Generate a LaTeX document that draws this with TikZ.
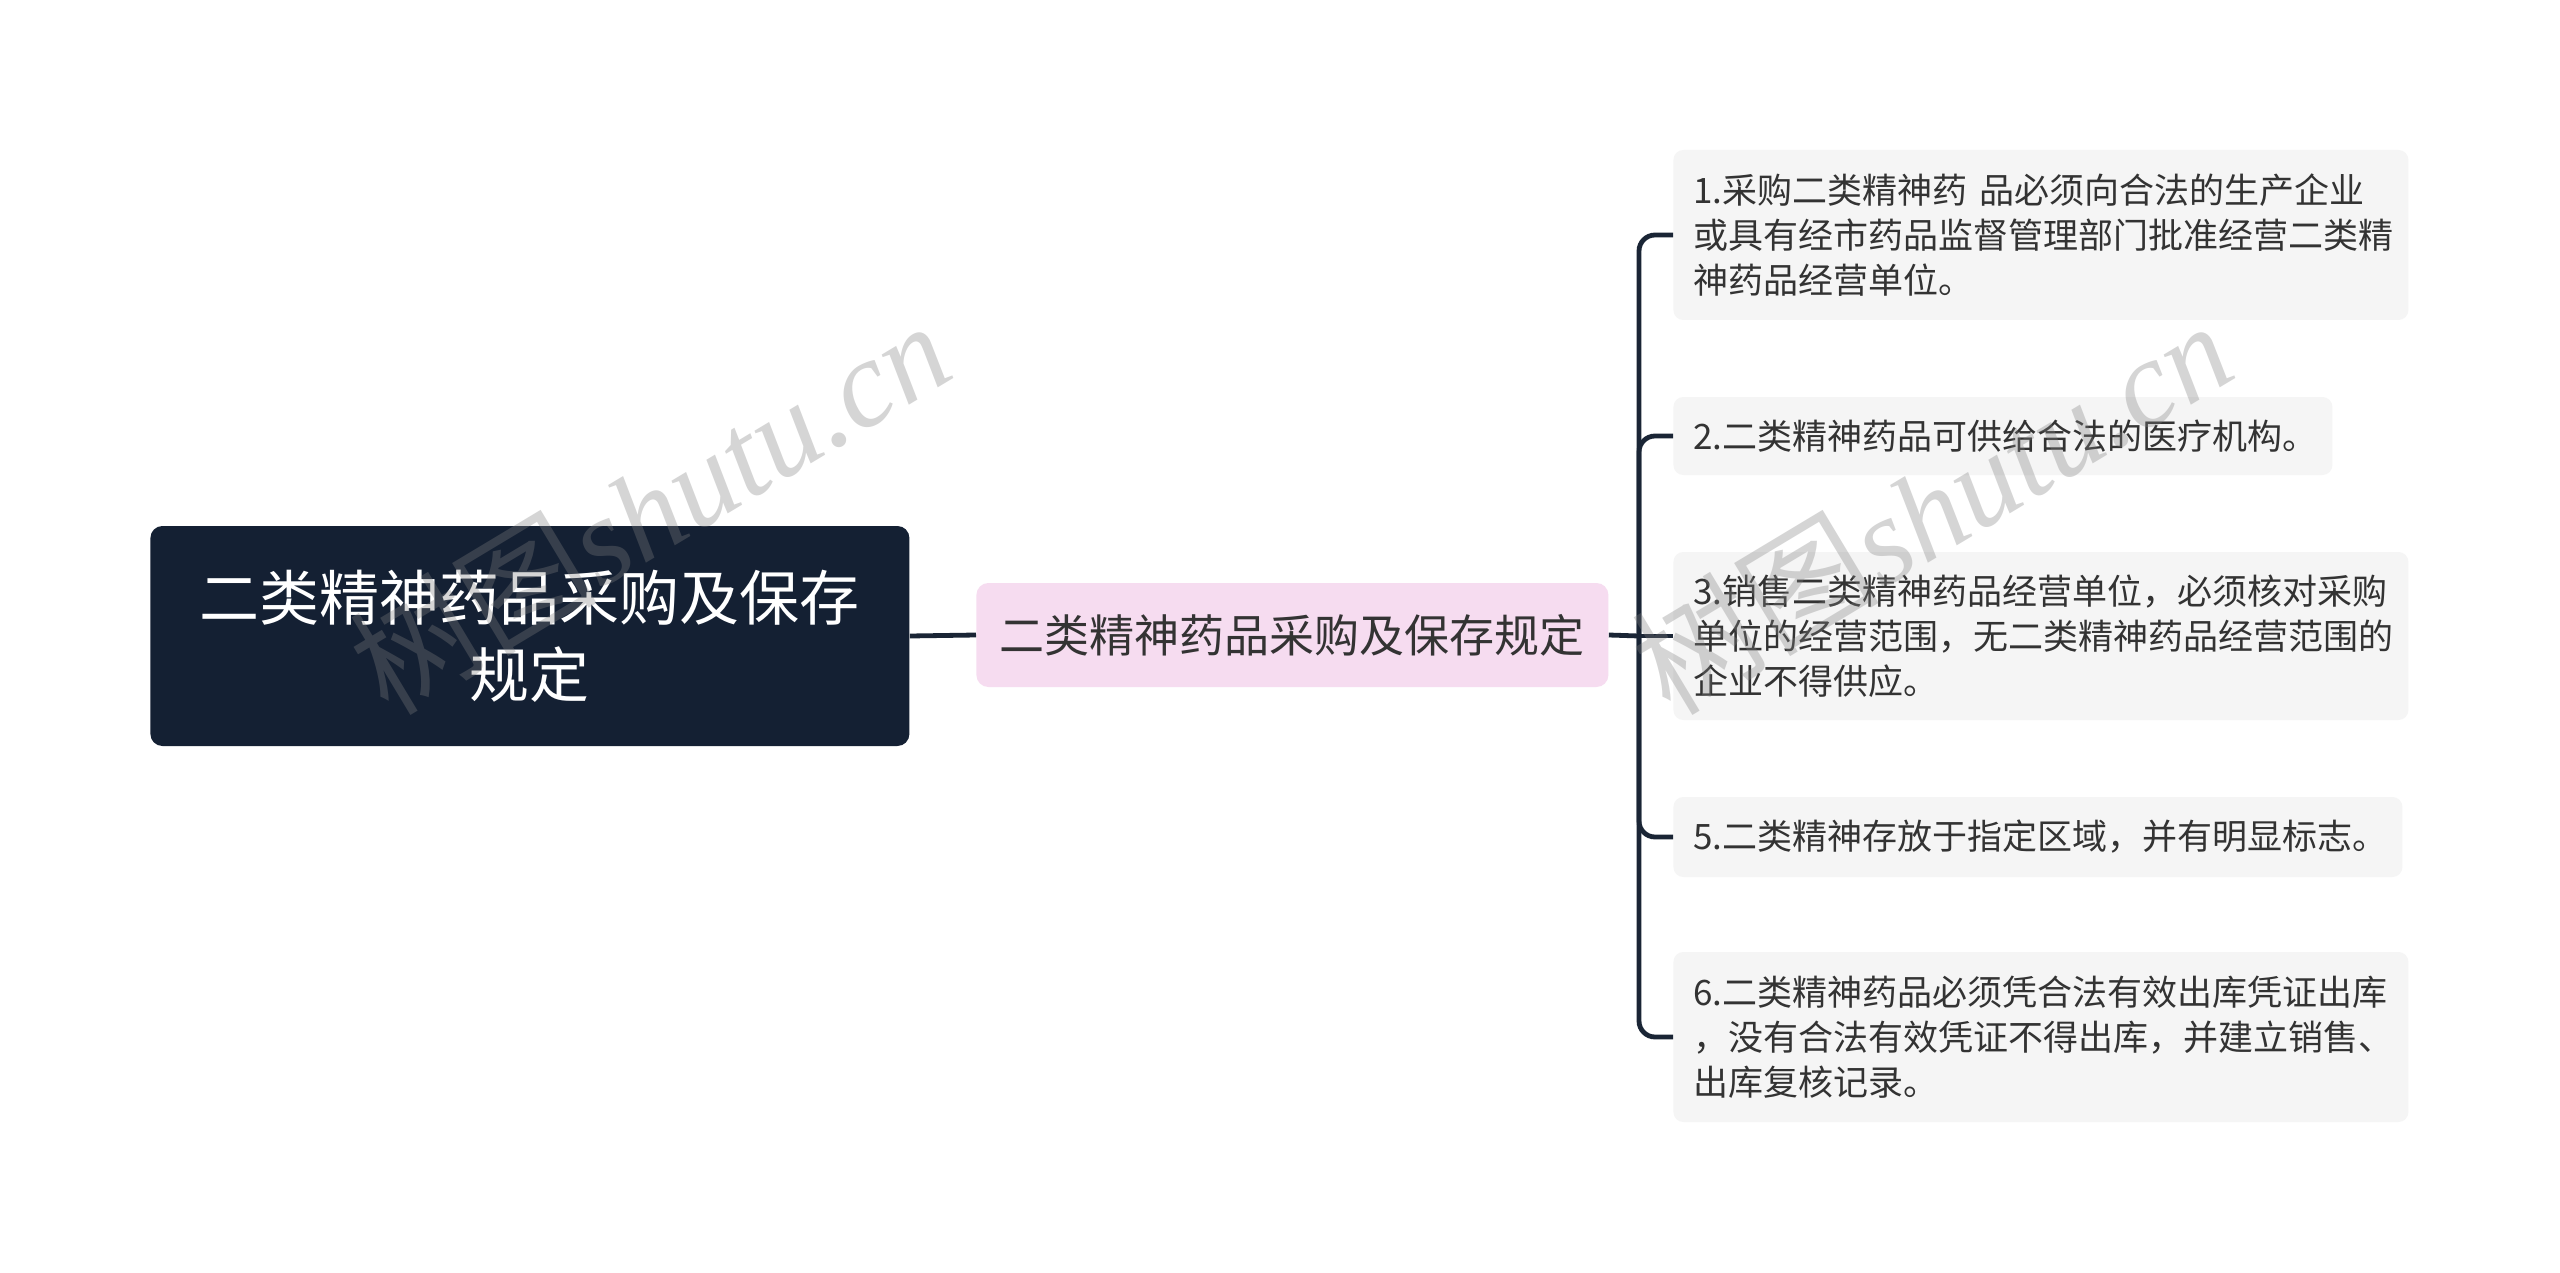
\documentclass[tikz,border=0pt]{standalone}
\usepackage{fontspec}
\setmainfont{Noto Sans CJK SC}
\newfontfamily\wmserif{Liberation Serif}
\definecolor{rootC}{HTML}{142033}
\definecolor{midC}{HTML}{F6DCF0}
\definecolor{leafC}{HTML}{F5F5F5}
\definecolor{lineC}{HTML}{1A2535}
\definecolor{leafT}{HTML}{333333}
\definecolor{wmC}{HTML}{808080}
\hfuzz=200pt
\tikzset{
  conn/.style={line width=2.4pt, draw=lineC},
  rootbox/.style={fill=rootC, rounded corners=6pt, anchor=west, minimum width=379.5pt, minimum height=110pt, inner sep=0pt, align=center, text=white, font=\fontsize{30}{38.5}\selectfont},
  midbox/.style={fill=midC, rounded corners=6pt, anchor=west, minimum width=316pt, minimum height=52pt, inner sep=0pt, align=center, text=leafT, font=\fontsize{22.5}{28}\selectfont},
  leafbox/.style={fill=leafC, rounded corners=5pt, anchor=west, inner xsep=6pt, inner ysep=0pt, align=left, text=leafT, font=\fontsize{17.5}{22.5}\selectfont},
  wm/.style={text=wmC, opacity=0.33, rotate=31, inner sep=0pt}
}
\begin{document}
\begin{tikzpicture}[x=0.5pt,y=-0.5pt]
\useasboundingbox (0,0) rectangle (2560,1273);
\fill[white] (0,0) rectangle (2560,1273);

\node[rootbox] (root) at (150,636) {二类精神药品采购及保存\\规定};
\node[midbox] (mid) at (976,635) {二类精神药品采购及保存规定};

\node[leafbox, text width=355.5pt, minimum height=85pt] (l1) at (1673,235) {\hspace*{4pt}1.采购二类精神药 品必须向合法的生产企业\\\hspace*{4pt}或具有经市药品监督管理部门批准经营二类精\\\hspace*{4pt}神药品经营单位。};
\node[leafbox, text width=317.5pt, minimum height=39pt] (l2) at (1673,436) {\hspace*{4pt}2.二类精神药品可供给合法的医疗机构。};
\node[leafbox, text width=355.5pt, minimum height=84pt] (l3) at (1673,636) {\hspace*{4pt}3.销售二类精神药品经营单位，必须核对采购\\\hspace*{4pt}单位的经营范围，无二类精神药品经营范围的\\\hspace*{4pt}企业不得供应。};
\node[leafbox, text width=352.5pt, minimum height=40pt] (l5) at (1673,837) {\hspace*{4pt}5.二类精神存放于指定区域，并有明显标志。};
\node[leafbox, text width=355.5pt, minimum height=85pt] (l6) at (1673,1037) {\hspace*{4pt}6.二类精神药品必须凭合法有效出库凭证出库\\\hspace*{4pt}，没有合法有效凭证不得出库，并建立销售、\\\hspace*{4pt}出库复核记录。};

\coordinate (bx) at (1639,636);
\draw[conn] (root.east) -- (mid.west);
\draw[conn] (mid.east) -- (bx);
\draw[conn, rounded corners=8pt] (bx) |- (l1.west);
\draw[conn, rounded corners=8pt] (bx) |- (l2.west);
\draw[conn] (bx) -- (l3.west);
\draw[conn, rounded corners=8pt] (bx) |- (l5.west);
\draw[conn, rounded corners=8pt] (bx) |- (l6.west);

\node[wm] (wm1) at (649,506) {\fontsize{62}{62}\selectfont 树图{\wmserif\itshape shutu.cn}};
\node[wm] (wm2) at (1931,506) {\fontsize{62}{62}\selectfont 树图{\wmserif\itshape shutu.cn}};
\end{tikzpicture}
\end{document}
